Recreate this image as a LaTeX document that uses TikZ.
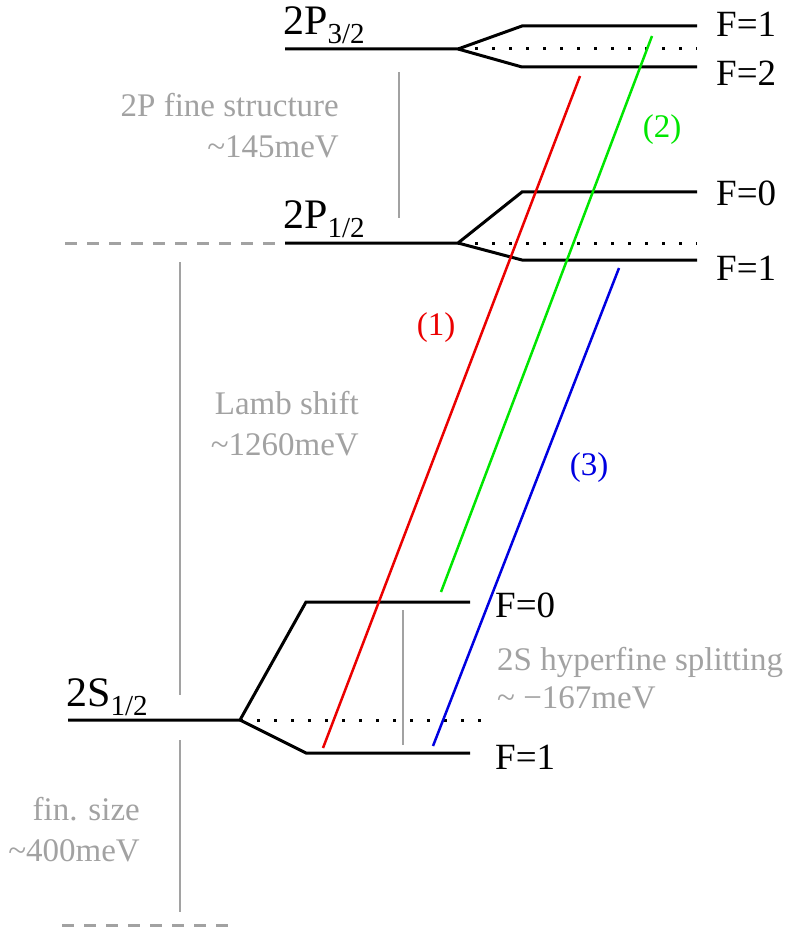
\documentclass[tikz,border=0pt]{standalone}
\usepackage{fontspec}
\setmainfont{Liberation Serif}
\definecolor{lgray}{RGB}{162,162,162}
\definecolor{tred}{RGB}{235,0,0}
\definecolor{tgreen}{RGB}{0,230,0}
\definecolor{tblue}{RGB}{0,0,225}
\newcommand{\lvsub}[1]{{\fontsize{29}{29}\selectfont\raisebox{-9pt}{#1}}}
\begin{document}
\begin{tikzpicture}[x=1pt,y=-1pt,
  lvl/.style={line width=3pt,black,line join=miter},
  mid/.style={line width=3pt,black,dash pattern=on 2.5pt off 14.5pt},
  gdash/.style={line width=3pt,lgray,dash pattern=on 12pt off 10pt},
  gbar/.style={line width=2.5pt,lgray},
  tr/.style={line width=2.5pt},
  blab/.style={font=\fontsize{37}{40}\selectfont,inner sep=0pt,anchor=base west},
  llab/.style={font=\fontsize{42}{44}\selectfont,inner sep=0pt,anchor=base west},
  glab/.style={font=\fontsize{33}{41}\selectfont,text=lgray,inner sep=0pt,align=right},
  clab/.style={font=\fontsize{33}{40}\selectfont,inner sep=0pt}]
\useasboundingbox (0,0) rectangle (810,933);
% ---- 2P3/2
\coordinate (a0) at (285,49); \coordinate (a1) at (458,49);
\coordinate (a2) at (522,26); \coordinate (a3) at (697,26);
\coordinate (a4) at (522,67); \coordinate (a5) at (697,67);
\coordinate (a6) at (697,49);
\draw[lvl] (a0) -- (a1) -- (a2) -- (a3);
\draw[lvl] (a1) -- (a4) -- (a5);
\draw[mid] (a1) -- (a6);
\node[llab] (l1) at (283,35) {2P\lvsub{3/2}};
\node[blab] (f1) at (716,37) {F=1};
\node[blab] (f2) at (716,86) {F=2};
% ---- 2P1/2
\coordinate (d0) at (65,243);
\coordinate (b0) at (285,243); \coordinate (b1) at (458,243);
\coordinate (b2) at (522,192); \coordinate (b3) at (697,192);
\coordinate (b4) at (522,260); \coordinate (b5) at (697,260);
\coordinate (b6) at (697,243);
\draw[gdash] (d0) -- (b0);
\draw[lvl] (b0) -- (b1) -- (b2) -- (b3);
\draw[lvl] (b1) -- (b4) -- (b5);
\draw[mid] (b1) -- (b6);
\node[llab] (l2) at (283,229) {2P\lvsub{1/2}};
\node[blab] (f3) at (716,206) {F=0};
\node[blab] (f4) at (716,280) {F=1};
% ---- 2S1/2
\coordinate (c0) at (68,720); \coordinate (c1) at (240,720);
\coordinate (c2) at (306,602); \coordinate (c3) at (470,602);
\coordinate (c4) at (306,753); \coordinate (c5) at (470,753);
\coordinate (c6) at (482,720);
\draw[lvl] (c0) -- (c1) -- (c2) -- (c3);
\draw[lvl] (c1) -- (c4) -- (c5);
\draw[mid] (c1) -- (c6);
\node[llab] (l3) at (66,706) {2S\lvsub{1/2}};
\node[blab] (f5) at (495,617) {F=0};
\node[blab] (f6) at (495,769) {F=1};
% ---- bottom dashed
\coordinate (e0) at (62,925); \coordinate (e1) at (232,925);
\draw[gdash] (e0) -- (e1);
% ---- gray bars
\coordinate (g1) at (399,72);  \coordinate (g2) at (399,218);
\coordinate (g3) at (180,262); \coordinate (g4) at (180,695);
\coordinate (g5) at (180,740); \coordinate (g6) at (180,912);
\coordinate (g7) at (403,610); \coordinate (g8) at (403,745);
\draw[gbar] (g1) -- (g2);
\draw[gbar] (g3) -- (g4);
\draw[gbar] (g5) -- (g6);
\draw[gbar] (g7) -- (g8);
\node[glab,anchor=north east] (t1) at (339,93) {2P fine structure\\\textasciitilde145meV};
\node[glab,anchor=north east] (t2) at (359,391) {Lamb shift\\\textasciitilde1260meV};
\node[glab,anchor=north east] (t3) at (140,797) {fin. size\\\textasciitilde400meV};
\node[glab,anchor=north west,align=left,font=\fontsize{33}{38}\selectfont] (t4) at (497,647) {2S hyperfine splitting\\\textasciitilde{} −167meV};
% ---- transitions
\coordinate (r0) at (323,748); \coordinate (r1) at (580,76);
\coordinate (s0) at (441,592); \coordinate (s1) at (652,36);
\coordinate (u0) at (433,746); \coordinate (u1) at (619,268);
\draw[tr,tred] (r0) -- (r1);
\draw[tr,tgreen] (s0) -- (s1);
\draw[tr,tblue] (u0) -- (u1);
\node[clab,text=tred] (n1) at (436,328) {(1)};
\node[clab,text=tgreen] (n2) at (662,130) {(2)};
\node[clab,text=tblue] (n3) at (589,468) {(3)};
\end{tikzpicture}
\end{document}
